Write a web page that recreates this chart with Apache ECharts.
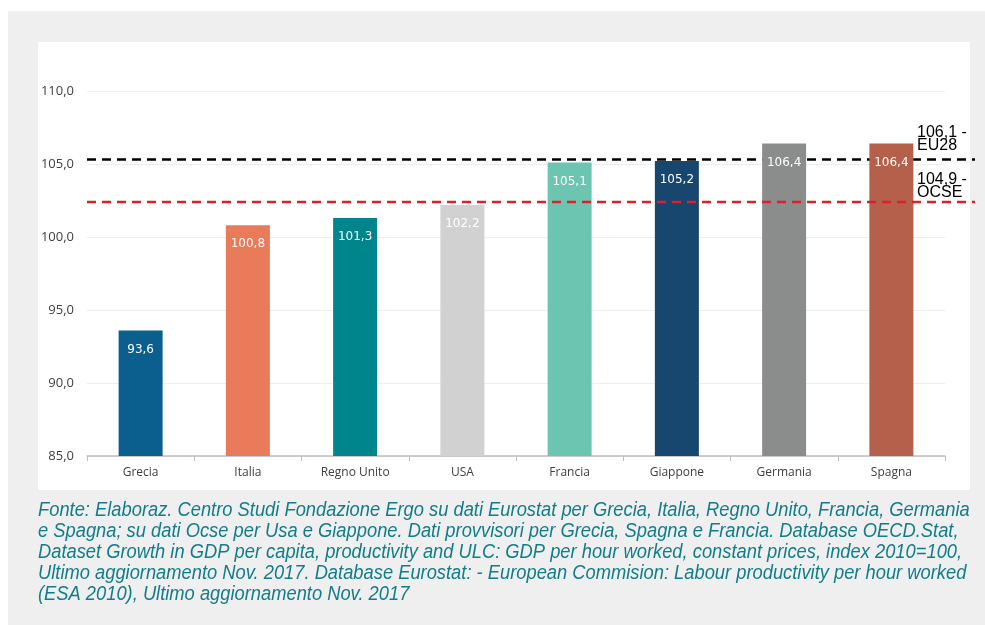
<!DOCTYPE html>
<html>
<head>
<meta charset="utf-8">
<script src="https://cdn.jsdelivr.net/npm/echarts@6/dist/echarts.min.js"></script>
<style>
  html, body { margin: 0; padding: 0; background: #fff; }
  #chart { width: 985px; height: 625px; }
</style>
</head>
<body>
<div id="chart"></div>
<script>
const categories = ['Grecia', 'Italia', 'Regno Unito', 'USA', 'Francia', 'Giappone', 'Germania', 'Spagna'];
const values = [93.6, 100.8, 101.3, 102.2, 105.1, 105.2, 106.4, 106.4];
const barColors = ['#0b5f8e', '#e97a5a', '#00858c', '#d0d1d0', '#6cc5b0', '#17466e', '#8b8c8c', '#b5604a'];
// dashed reference lines: where they sit in the picture, and what their labels say
const refLinePos = [105.3, 102.4];
const refLabels = ['106,1 -\nEU28', '104,9 -\nOCSE'];
const refColors = ['#000000', '#e02024'];
const yTicks = [85, 90, 95, 100, 105, 110];

const caption = [
  'Fonte: Elaboraz. Centro Studi Fondazione Ergo su dati Eurostat per Grecia, Italia, Regno Unito, Francia, Germania',
  'e Spagna; su dati Ocse per Usa e Giappone. Dati provvisori per Grecia, Spagna e Francia. Database OECD.Stat,',
  'Dataset Growth in GDP per capita, productivity and ULC: GDP per hour worked, constant prices, index 2010=100,',
  'Ultimo aggiornamento Nov. 2017. Database Eurostat: - European Commision: Labour productivity per hour worked',
  '(ESA 2010), Ultimo aggiornamento Nov. 2017'
];

const fmt = v => v.toFixed(1).replace('.', ',');

const chart = echarts.init(document.getElementById('chart'));

const refSeries = refLinePos.map((v, i) => ({
  type: 'line',
  xAxisIndex: 1,
  yAxisIndex: 1,
  data: [[0, v], [1, v]],
  symbol: 'none',
  silent: true,
  z: i === 0 ? 1 : 5,
  lineStyle: { color: refColors[i], width: 2.5, type: [9, 6] }
}));

chart.setOption({
  animation: false,
  backgroundColor: '#ffffff',
  graphic: [
    { type: 'rect', z: -10, shape: { x: 8, y: 11, width: 977, height: 614 }, style: { fill: '#eeefee' } },
    { type: 'rect', z: -9, shape: { x: 38, y: 42, width: 932, height: 448 }, style: { fill: '#ffffff' } },
    {
      type: 'text', left: 917, top: 125, z: 10,
      style: { text: refLabels[0], font: '16px "Liberation Sans"', fill: '#000', lineHeight: 13 }
    },
    {
      type: 'text', left: 917, top: 172, z: 10,
      style: { text: refLabels[1], font: '16px "Liberation Sans"', fill: '#000', lineHeight: 13 }
    },
    {
      type: 'text', x: 38, y: 500, scaleX: 0.916, z: 10,
      style: {
        text: caption.join('\n'),
        font: 'italic 20px "Liberation Sans"',
        fill: '#127d8a',
        lineHeight: 21
      }
    }
  ],
  grid: [
    { left: 87, right: 40, top: 91, bottom: 169 },
    { left: 87, right: 10, top: 91, bottom: 169 }
  ],
  xAxis: [
    {
      type: 'category',
      data: categories,
      gridIndex: 0,
      axisLine: { lineStyle: { color: '#bfbfbf', width: 1.5 } },
      axisTick: { show: true, length: 5, lineStyle: { color: '#bfbfbf' } },
      axisLabel: { color: '#404040', fontFamily: 'Open Sans', fontSize: 12, margin: 11 }
    },
    { type: 'value', gridIndex: 1, min: 0, max: 1, show: false }
  ],
  yAxis: [
    {
      type: 'value',
      gridIndex: 0,
      min: yTicks[0],
      max: yTicks[yTicks.length - 1],
      interval: 5,
      axisLine: { show: false },
      axisTick: { show: false },
      splitLine: { lineStyle: { color: '#eeeeee' } },
      axisLabel: { color: '#404040', fontFamily: 'Open Sans', fontSize: 13, margin: 13, formatter: fmt }
    },
    { type: 'value', gridIndex: 1, min: yTicks[0], max: yTicks[yTicks.length - 1], show: false }
  ],
  series: [
    {
      type: 'bar',
      z: 2,
      barWidth: 44,
      data: values.map((v, i) => ({ value: v, itemStyle: { color: barColors[i] } })),
      label: {
        show: true,
        position: 'insideTop',
        distance: 13,
        color: '#ffffff',
        fontFamily: 'DejaVu Sans',
        fontSize: 12,
        formatter: p => fmt(p.value)
      }
    },
    ...refSeries
  ]
});
</script>
</body>
</html>
